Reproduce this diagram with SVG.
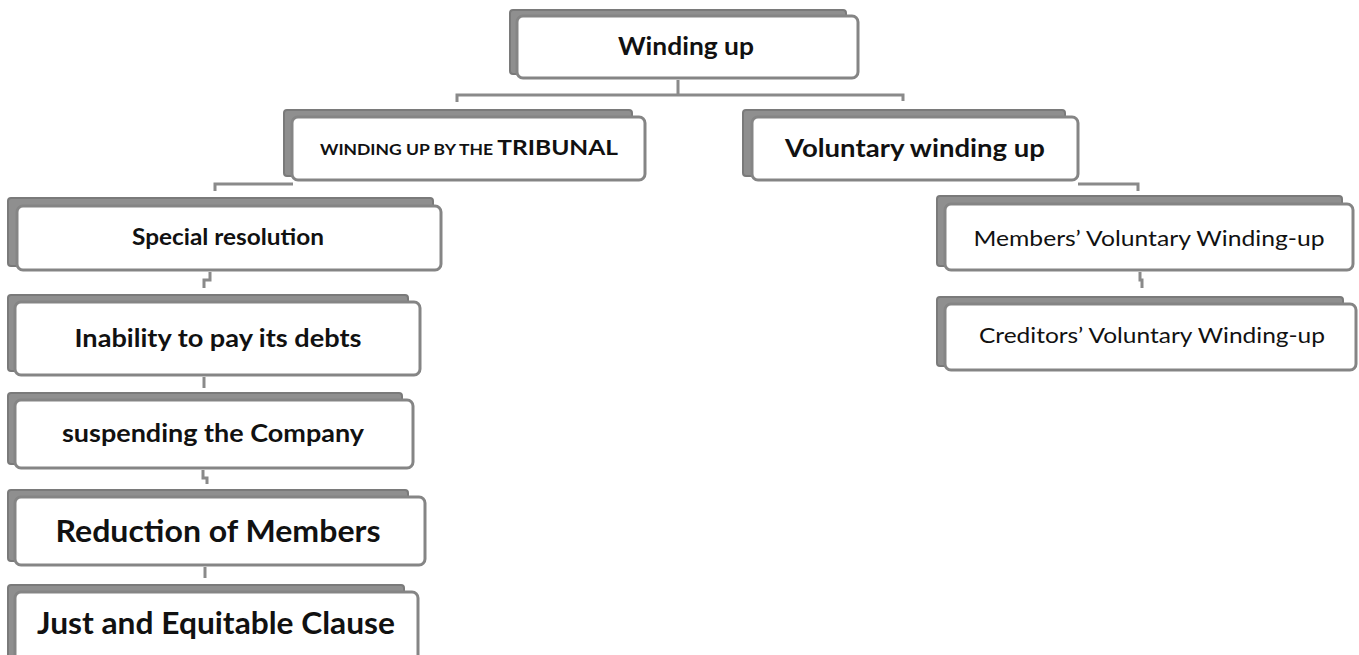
<svg xmlns="http://www.w3.org/2000/svg" width="1359" height="655" viewBox="0 0 1359 655">
<style>
.sh{fill:#8f8f8f;stroke:#7a7a7a;stroke-width:2}
.bx{fill:#fff;stroke:#858585;stroke-width:3}
.t{font-family:Lato,"Open Sans","Liberation Sans",sans-serif;font-weight:bold;fill:#111;text-anchor:middle}
.n{font-family:Lato,"Open Sans","Liberation Sans",sans-serif;font-weight:normal;fill:#111;text-anchor:middle}
.c{fill:none;stroke:#8a8a8a;stroke-width:3}
</style>
<rect width="1359" height="655" fill="#fff"/>
<g id="connectors">
<path class="c" d="M678,80 V95 M457,102 V95 H903 V101"/>
<path class="c" d="M215,191 V184 H293 M1078,184 H1138 V191"/>
<path class="c" d="M210,272 V280 H204 V288"/>
<path class="c" d="M204,377 V388"/>
<path class="c" d="M203,470 V478 H207 V484"/>
<path class="c" d="M205,567 V578"/>
<path class="c" d="M1140,272 V280 H1142 V288"/>
</g>
<g id="n-winding">
<rect class="sh" x="510" y="10" width="336" height="64" rx="3"/>
<rect class="bx" x="517" y="16" width="341" height="62" rx="6"/>
<text class="t" x="686" y="55" font-size="24" textLength="136" lengthAdjust="spacingAndGlyphs">Winding up</text>
</g>
<g id="n-tribunal">
<rect class="sh" x="284" y="110" width="348" height="66" rx="3"/>
<rect class="bx" x="292" y="117" width="353" height="63" rx="6"/>
<text class="t" x="469" y="155" textLength="298" lengthAdjust="spacingAndGlyphs"><tspan font-size="15">WINDING UP BY THE </tspan><tspan font-size="21">TRIBUNAL</tspan></text>
</g>
<g id="n-voluntary">
<rect class="sh" x="743" y="110" width="322" height="66" rx="3"/>
<rect class="bx" x="752" y="117" width="326" height="63" rx="6"/>
<text class="t" x="915" y="157" font-size="25" textLength="260" lengthAdjust="spacingAndGlyphs">Voluntary winding up</text>
</g>
<g id="n-special">
<rect class="sh" x="8" y="198" width="425" height="68" rx="3"/>
<rect class="bx" x="17" y="206" width="424" height="64" rx="6"/>
<text class="t" x="228" y="245" font-size="22" textLength="192" lengthAdjust="spacingAndGlyphs">Special resolution</text>
</g>
<g id="n-inability">
<rect class="sh" x="8" y="295" width="400" height="76" rx="3"/>
<rect class="bx" x="15" y="302" width="405" height="73" rx="6"/>
<text class="t" x="218" y="347" font-size="25" textLength="287" lengthAdjust="spacingAndGlyphs">Inability to pay its debts</text>
</g>
<g id="n-suspending">
<rect class="sh" x="8" y="393" width="394" height="71" rx="3"/>
<rect class="bx" x="15" y="400" width="398" height="68" rx="6"/>
<text class="t" x="213" y="442" font-size="25" textLength="302" lengthAdjust="spacingAndGlyphs">suspending the Company</text>
</g>
<g id="n-reduction">
<rect class="sh" x="8" y="490" width="400" height="71" rx="3"/>
<rect class="bx" x="15" y="497" width="410" height="68" rx="6"/>
<text class="t" x="218" y="542" font-size="30" textLength="325" lengthAdjust="spacingAndGlyphs">Reduction of Members</text>
</g>
<g id="n-just">
<rect class="sh" x="8" y="585" width="396" height="75" rx="3"/>
<rect class="bx" x="15" y="592" width="403" height="70" rx="6"/>
<text class="t" x="216" y="634" font-size="30" textLength="358" lengthAdjust="spacingAndGlyphs">Just and Equitable Clause</text>
</g>
<g id="n-members">
<rect class="sh" x="937" y="196" width="405" height="70" rx="3"/>
<rect class="bx" x="945" y="204" width="408" height="66" rx="6"/>
<text class="n" x="1149" y="246" font-size="21" textLength="351" lengthAdjust="spacingAndGlyphs">Members’ Voluntary Winding-up</text>
</g>
<g id="n-creditors">
<rect class="sh" x="937" y="297" width="406" height="69" rx="3"/>
<rect class="bx" x="945" y="304" width="411" height="66" rx="6"/>
<text class="n" x="1152" y="343" font-size="21" textLength="346" lengthAdjust="spacingAndGlyphs">Creditors’ Voluntary Winding-up</text>
</g>
</svg>
